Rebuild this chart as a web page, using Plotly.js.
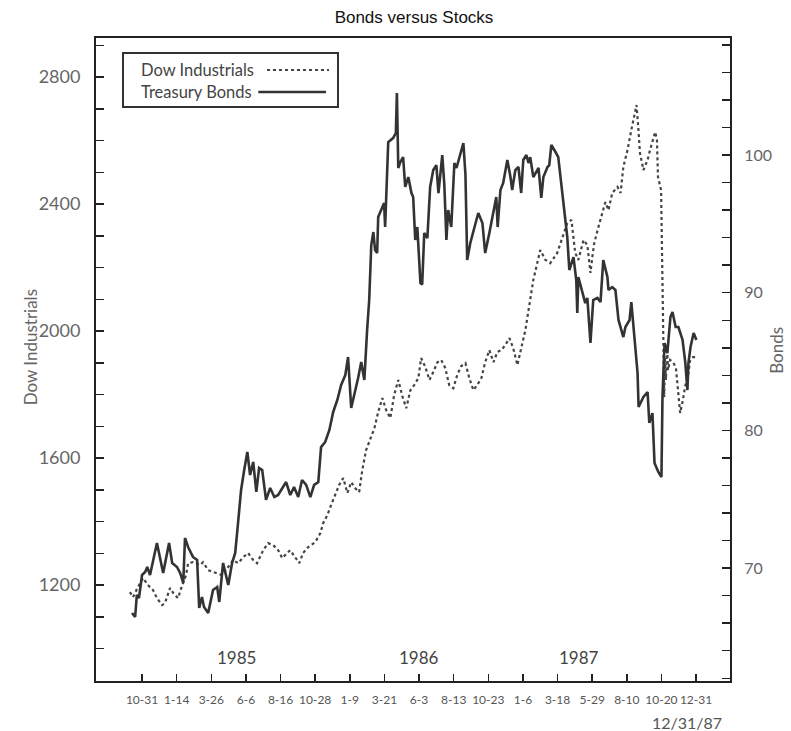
<!DOCTYPE html>
<html>
<head>
<meta charset="utf-8">
<script src="https://cdn.plot.ly/plotly-3.0.1.min.js"></script>
<style>html,body{margin:0;padding:0;background:#fff;}#chart{width:791px;height:731px;}</style>
</head>
<body>
<div id="chart"></div>
<script>
// Tick labels of the date axis (positions 0..16)
const dateTickLabels = ["10-31","1-14","3-26","6-6","8-16","10-28","1-9","3-21","6-3","8-13","10-23","1-6","3-18","5-29","8-10","10-20","12-31"];
const yearLabels = ["1985","1986","1987"];
const yearPositions = [2.74, 8.0, 12.62];

// Treasury Bonds (right axis)
const bondPeriod = [-0.29,-0.20,-0.15,-0.09,0.00,0.09,0.15,0.23,0.43,0.61,0.78,0.87,1.01,1.10,1.19,1.24,1.33,1.47,1.59,1.65,1.73,1.79,1.91,2.05,2.17,2.23,2.34,2.43,2.49,2.60,2.69,2.78,2.86,2.95,3.04,3.12,3.21,3.30,3.38,3.47,3.58,3.70,3.82,3.93,4.05,4.16,4.28,4.39,4.51,4.62,4.74,4.86,4.97,5.09,5.17,5.29,5.41,5.52,5.64,5.75,5.87,5.95,6.04,6.13,6.24,6.33,6.42,6.50,6.56,6.62,6.68,6.73,6.79,6.82,6.91,6.99,7.02,7.11,7.25,7.33,7.36,7.40,7.46,7.54,7.60,7.69,7.78,7.83,7.89,7.95,8.04,8.09,8.15,8.24,8.32,8.41,8.50,8.56,8.67,8.73,8.79,8.84,8.93,9.02,9.08,9.16,9.28,9.34,9.39,9.48,9.60,9.71,9.83,9.91,10.03,10.15,10.23,10.27,10.35,10.43,10.55,10.64,10.69,10.78,10.87,10.95,11.01,11.10,11.16,11.21,11.30,11.45,11.53,11.59,11.71,11.76,11.82,11.94,12.02,12.17,12.28,12.34,12.46,12.54,12.57,12.60,12.72,12.80,12.86,12.89,12.95,13.03,13.15,13.24,13.32,13.44,13.47,13.58,13.67,13.76,13.90,13.96,14.08,14.13,14.22,14.31,14.34,14.48,14.60,14.65,14.74,14.80,14.91,15.00,15.03,15.09,15.17,15.26,15.32,15.41,15.49,15.61,15.69,15.75,15.78,15.84,15.93,16.01];
const bondPrice = [66.74,66.45,68.05,67.83,69.50,69.72,70.08,69.50,71.82,69.65,71.82,70.37,70.08,69.65,68.92,72.19,71.53,70.81,70.59,67.10,67.90,67.18,66.74,68.41,68.63,67.54,70.37,69.50,68.77,70.37,71.10,73.49,75.67,77.12,78.43,76.76,77.71,75.53,77.27,77.12,74.95,75.82,75.16,75.31,75.82,76.25,75.31,75.89,75.16,76.40,76.04,75.16,76.04,76.25,78.79,79.16,80.03,81.34,82.21,83.30,84.02,85.33,81.63,82.57,83.81,84.97,83.66,87.29,89.47,93.46,94.41,93.10,92.88,95.50,96.01,96.51,94.77,100.94,101.23,101.60,104.50,99.06,99.49,99.85,97.68,98.40,97.24,96.95,93.83,94.77,90.70,90.60,94.34,93.97,97.68,98.91,99.27,97.24,100.00,97.82,93.83,96.01,94.77,99.42,99.06,99.78,100.87,98.55,92.37,93.61,94.77,95.79,95.06,92.88,94.34,95.79,96.95,94.77,97.46,97.97,99.64,98.40,97.46,98.91,99.13,97.24,99.64,100.00,99.42,99.85,98.40,99.06,96.88,98.40,99.13,99.27,100.73,100.22,99.85,96.51,94.05,91.65,92.59,90.92,88.53,91.14,89.98,89.25,89.62,88.53,86.35,89.47,89.62,89.32,92.37,91.14,90.20,90.41,90.20,88.02,86.78,87.51,88.02,89.32,86.57,84.17,81.70,82.43,82.79,80.54,81.26,77.63,76.98,76.62,82.43,86.35,85.62,88.24,88.60,87.51,87.51,86.57,84.90,82.93,84.90,86.06,87.07,86.57];

// Dow Industrials (left axis)
const dowPeriod = [-0.35,-0.26,-0.12,0.03,0.17,0.32,0.43,0.58,0.66,0.81,0.90,1.04,1.16,1.27,1.33,1.47,1.68,1.76,1.91,2.11,2.31,2.49,2.63,2.78,2.92,3.06,3.21,3.32,3.50,3.64,3.79,3.93,4.05,4.19,4.28,4.42,4.54,4.65,4.80,5.00,5.15,5.23,5.35,5.46,5.58,5.69,5.81,5.93,6.04,6.16,6.27,6.36,6.47,6.59,6.71,6.82,6.94,7.05,7.17,7.28,7.40,7.51,7.63,7.75,7.86,7.98,8.06,8.18,8.30,8.41,8.53,8.64,8.76,8.87,8.99,9.10,9.22,9.34,9.45,9.57,9.68,9.80,9.91,10.03,10.15,10.26,10.38,10.49,10.61,10.72,10.84,10.95,11.07,11.30,11.50,11.65,11.79,11.99,12.14,12.28,12.40,12.46,12.51,12.60,12.75,12.86,12.95,13.01,13.06,13.18,13.30,13.38,13.47,13.58,13.73,13.82,13.90,14.02,14.13,14.28,14.33,14.38,14.48,14.60,14.67,14.82,14.87,14.90,14.99,15.02,15.05,15.08,15.10,15.13,15.16,15.19,15.25,15.34,15.42,15.54,15.62,15.68,15.77,15.83,15.91,16.00];
const dowClose = [1178,1162,1194,1222,1200,1184,1159,1137,1143,1191,1175,1159,1200,1231,1269,1272,1263,1272,1247,1238,1231,1257,1279,1269,1288,1301,1279,1269,1310,1332,1326,1310,1285,1301,1310,1288,1269,1301,1320,1335,1364,1395,1420,1452,1483,1515,1537,1490,1524,1505,1493,1562,1625,1663,1694,1745,1789,1751,1726,1798,1846,1798,1757,1814,1830,1852,1915,1887,1846,1871,1902,1909,1883,1830,1820,1861,1890,1899,1852,1814,1830,1852,1902,1940,1902,1934,1940,1956,1978,1946,1893,1946,2003,2161,2255,2224,2214,2246,2296,2340,2350,2302,2246,2224,2287,2271,2183,2239,2277,2328,2372,2406,2381,2435,2454,2435,2517,2570,2633,2712,2643,2561,2507,2539,2570,2627,2602,2485,2444,2255,2035,1792,1918,1846,1956,1877,1909,1902,1883,1742,1783,1824,1861,1909,1918,1918];

const seriesNames = ["Dow Industrials", "Treasury Bonds"];

const FONT = "Lato, 'Open Sans', sans-serif";
const AXC = "#222";

const traces = [
  {x: dowPeriod, y: dowClose, name: seriesNames[0], type: "scatter", mode: "lines",
   line: {color: "#444", width: 2.2, dash: "dot"}, yaxis: "y", hoverinfo: "skip"},
  {x: bondPeriod, y: bondPrice, name: seriesNames[1], type: "scatter", mode: "lines",
   line: {color: "#333", width: 2.6}, yaxis: "y2", hoverinfo: "skip"}
];

const annotations = [
  {text: "Dow Industrials", xref: "paper", yref: "paper", x: -0.104, y: 0.519, textangle: -90,
   xanchor: "center", yanchor: "middle",
   showarrow: false, font: {family: FONT, size: 17, color: "#666"}},
  {text: "Bonds", xref: "paper", yref: "paper", x: 1.074, y: 0.515, textangle: -90,
   xanchor: "center", yanchor: "middle",
   showarrow: false, font: {family: FONT, size: 17, color: "#666"}},
  {text: "12/31/87", xref: "paper", yref: "paper", x: 0.932, y: -0.064,
   xanchor: "center", yanchor: "middle",
   showarrow: false, font: {family: FONT, size: 16, color: "#555"}},
  // legend texts
  {text: seriesNames[0], xref: "paper", yref: "paper", x: 0.0678, y: 0.9502, xanchor: "left", yanchor: "middle",
   showarrow: false, font: {family: FONT, size: 16.5, color: "#444"}},
  {text: seriesNames[1], xref: "paper", yref: "paper", x: 0.0678, y: 0.916, xanchor: "left", yanchor: "middle",
   showarrow: false, font: {family: FONT, size: 16.5, color: "#444"}}
];
yearLabels.forEach((t, i) => annotations.push({
  text: t, xref: "x", yref: "paper", x: yearPositions[i], y: 0.0373,
  xanchor: "center", yanchor: "middle",
  showarrow: false, font: {family: FONT, size: 17, color: "#444"}
}));

const shapes = [
  {type: "rect", xref: "paper", yref: "paper", x0: 0.0426, x1: 0.3817, y0: 0.8927, y1: 0.9767,
   line: {color: "#333", width: 2}, fillcolor: "rgba(0,0,0,0)"},
  {type: "line", xref: "paper", yref: "paper", x0: 0.2697, x1: 0.3675, y0: 0.9502, y1: 0.9502,
   line: {color: "#444", width: 2, dash: "dot"}},
  {type: "line", xref: "paper", yref: "paper", x0: 0.2560, x1: 0.3628, y0: 0.916, y1: 0.916,
   line: {color: "#333", width: 2.5}}
];

const layout = {
  width: 791, height: 731,
  margin: {l: 96, r: 61, t: 38, b: 50},
  paper_bgcolor: "#fff", plot_bgcolor: "#fff",
  showlegend: false,
  title: {text: "Bonds versus Stocks", x: 0.5234, xref: "container", xanchor: "center",
          y: 0.9767, yref: "container", yanchor: "middle",
          font: {family: "'Liberation Sans Narrow', 'Arial Narrow', 'Liberation Sans', Arial, sans-serif", size: 17, color: "#111"}},
  xaxis: {
    range: [-1.33, 16.98], tickmode: "array", tickvals: dateTickLabels.map((_, i) => i), ticktext: dateTickLabels,
    tickangle: 0,
    ticks: "inside", ticklen: 7, tickwidth: 1.5, tickcolor: AXC,
    showline: true, linecolor: AXC, linewidth: 2, mirror: true,
    showgrid: false, zeroline: false, ticklabelstandoff: 7,
    tickfont: {family: FONT, size: 12, color: "#555"}
  },
  yaxis: {
    range: [898, 2923], tick0: 1200, dtick: 400,
    ticks: "inside", ticklen: 8, tickwidth: 1.5, tickcolor: AXC,
    minor: {dtick: 100, tick0: 0, ticks: "inside", ticklen: 8, tickwidth: 1.5, tickcolor: AXC, showgrid: false},
    showline: true, linecolor: AXC, linewidth: 2, mirror: true,
    showgrid: false, zeroline: false, ticklabelstandoff: 10,
    tickfont: {family: FONT, size: 18, color: "#666"}
  },
  yaxis2: {
    overlaying: "y", side: "right",
    range: [61.8, 108.5], tick0: 0, dtick: 10,
    ticks: "inside", ticklen: 8, tickwidth: 1.5, tickcolor: AXC,
    minor: {dtick: 2, tick0: 0, ticks: "inside", ticklen: 8, tickwidth: 1.5, tickcolor: AXC, showgrid: false},
    showline: true, linecolor: AXC, linewidth: 2,
    showgrid: false, zeroline: false, ticklabelstandoff: 9,
    tickfont: {family: FONT, size: 16, color: "#666"}
  },
  annotations: annotations,
  shapes: shapes
};

Plotly.newPlot("chart", traces, layout, {staticPlot: true, displayModeBar: false});
</script>
</body>
</html>
